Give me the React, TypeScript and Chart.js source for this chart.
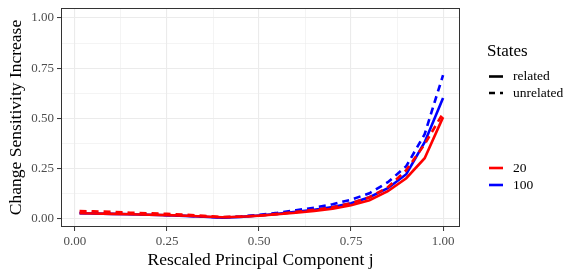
import React, { useEffect, useRef } from "react";
import { Chart, registerables } from "chart.js";
Chart.register(...registerables);

const xValues = [0.0125, 0.05, 0.1, 0.15, 0.2, 0.25, 0.3, 0.35, 0.4, 0.45, 0.5, 0.55, 0.6, 0.65, 0.7, 0.75, 0.8, 0.85, 0.9, 0.95, 1.0];
const red20Related = [0.025, 0.024, 0.022, 0.02, 0.018, 0.016, 0.013, 0.009, 0.005, 0.008, 0.013, 0.02, 0.028, 0.037, 0.048, 0.065, 0.09, 0.135, 0.2, 0.3, 0.505];
const red20Unrelated = [0.036, 0.035, 0.032, 0.028, 0.025, 0.022, 0.018, 0.012, 0.006, 0.008, 0.014, 0.022, 0.032, 0.042, 0.055, 0.075, 0.105, 0.155, 0.24, 0.37, 0.525];
const blue100Related = [0.025, 0.024, 0.022, 0.02, 0.018, 0.015, 0.012, 0.008, 0.003, 0.007, 0.014, 0.022, 0.032, 0.043, 0.056, 0.075, 0.105, 0.15, 0.22, 0.38, 0.6];
const blue100Unrelated = [0.027, 0.026, 0.024, 0.022, 0.019, 0.016, 0.013, 0.008, 0.004, 0.009, 0.017, 0.027, 0.04, 0.053, 0.07, 0.093, 0.125, 0.18, 0.26, 0.42, 0.715];
const tickValues = [0, 0.125, 0.25, 0.375, 0.5, 0.625, 0.75, 0.875, 1];
const majorTicks = [0, 0.25, 0.5, 0.75, 1];
const legendTitle = "States";
const typeLabels = ["related", "unrelated"];
const stateLabels = ["20", "100"];

const SERIF = "'Liberation Serif', 'DejaVu Serif', serif";
const RED = "#FF0000";
const BLUE = "#0000FF";
const DASH = [7, 5];

const isMajor = (v: number) => majorTicks.some((m) => Math.abs(m - v) < 1e-6);

const mk = (data: number[], color: string, dashed: boolean) => ({
  data: xValues.map((x, i) => ({ x, y: data[i] })),
  borderColor: color,
  backgroundColor: color,
  borderWidth: 2.6,
  borderDash: dashed ? DASH : [],
  pointRadius: 0,
  tension: 0,
  fill: false,
});

const panelPlugin = {
  id: "panel",
  afterDraw(chart: any) {
    const { ctx, chartArea } = chart;
    ctx.save();
    ctx.strokeStyle = "#333333";
    ctx.lineWidth = 1;
    ctx.strokeRect(
      Math.round(chartArea.left) + 0.5,
      Math.round(chartArea.top) + 0.5,
      Math.round(chartArea.right - chartArea.left) - 1,
      Math.round(chartArea.bottom - chartArea.top) - 1
    );
    // legend
    ctx.fillStyle = "#000";
    ctx.textBaseline = "middle";
    ctx.textAlign = "left";
    ctx.font = `17px ${SERIF}`;
    ctx.fillText(legendTitle, 487, 52);
    ctx.font = `13.5px ${SERIF}`;
    const keyX0 = 489;
    const keyX1 = 503;
    const drawKey = (y: number, color: string, dash: number[], label: string) => {
      ctx.beginPath();
      ctx.strokeStyle = color;
      ctx.lineWidth = 2.6;
      ctx.setLineDash(dash);
      ctx.moveTo(keyX0, y);
      ctx.lineTo(keyX1, y);
      ctx.stroke();
      ctx.setLineDash([]);
      ctx.fillStyle = "#000";
      ctx.fillText(label, 513, y);
    };
    drawKey(76.5, "#000", [], typeLabels[0]);
    drawKey(93, "#000", [6, 5], typeLabels[1]);
    drawKey(168, RED, [], stateLabels[0]);
    drawKey(185, BLUE, [], stateLabels[1]);
    ctx.restore();
  },
};

export default function App() {
  const ref = useRef<HTMLCanvasElement | null>(null);
  useEffect(() => {
    if (!ref.current) return;
    const gridCommon = {
      color: "#EBEBEB",
      lineWidth: (c: any) => (c.tick && isMajor(c.tick.value) ? 1.1 : 0.55),
      tickColor: (c: any) => (c.tick && isMajor(c.tick.value) ? "#333333" : "rgba(0,0,0,0)"),
      tickLength: 4,
      tickWidth: 1,
      drawTicks: true,
    };
    const chart = new Chart(ref.current, {
      type: "line",
      data: {
        datasets: [
          mk(red20Related, RED, false),
          mk(red20Unrelated, RED, true),
          mk(blue100Related, BLUE, false),
          mk(blue100Unrelated, BLUE, true),
        ],
      },
      options: {
        animation: false,
        responsive: false,
        events: [],
        layout: { padding: { left: 0, right: 121, top: 8, bottom: 0 } },
        plugins: { legend: { display: false }, tooltip: { enabled: false } },
        scales: {
          x: {
            type: "linear",
            min: -0.038,
            max: 1.046,
            afterFit: (s: any) => {
              s.height = 50;
              s.paddingLeft = 0;
              s.paddingRight = 0;
            },
            afterBuildTicks: (s: any) => {
              s.ticks = tickValues.map((v) => ({ value: v }));
            },
            border: { display: false },
            grid: gridCommon as any,
            ticks: {
              autoSkip: false,
              maxRotation: 0,
              padding: 3,
              color: "#4D4D4D",
              font: { family: SERIF, size: 13 },
              callback: (v: any) => (isMajor(Number(v)) ? Number(v).toFixed(2) : ""),
            },
            title: {
              display: true,
              text: "Rescaled Principal Component j",
              color: "#000",
              font: { family: SERIF, size: 17.5 },
              padding: { top: 0, bottom: 6 },
            },
          },
          y: {
            type: "linear",
            min: -0.0435,
            max: 1.05,
            afterFit: (s: any) => {
              s.width = 61;
              s.paddingTop = 0;
              s.paddingBottom = 0;
            },
            afterBuildTicks: (s: any) => {
              s.ticks = tickValues.map((v) => ({ value: v }));
            },
            border: { display: false },
            grid: gridCommon as any,
            ticks: {
              autoSkip: false,
              padding: 3,
              color: "#4D4D4D",
              font: { family: SERIF, size: 13 },
              callback: (v: any) => (isMajor(Number(v)) ? Number(v).toFixed(2) : ""),
            },
            title: {
              display: true,
              text: "Change Sensitivity Increase",
              color: "#000",
              font: { family: SERIF, size: 17.5 },
              padding: { top: 6, bottom: 0 },
            },
          },
        },
      } as any,
      plugins: [panelPlugin],
    });
    return () => chart.destroy();
  }, []);
  return (
    <div style={{ position: "fixed", left: 0, top: 0, width: 581, height: 277, background: "#fff" }}>
      <canvas ref={ref} width={581} height={277} style={{ display: "block" }} />
    </div>
  );
}
